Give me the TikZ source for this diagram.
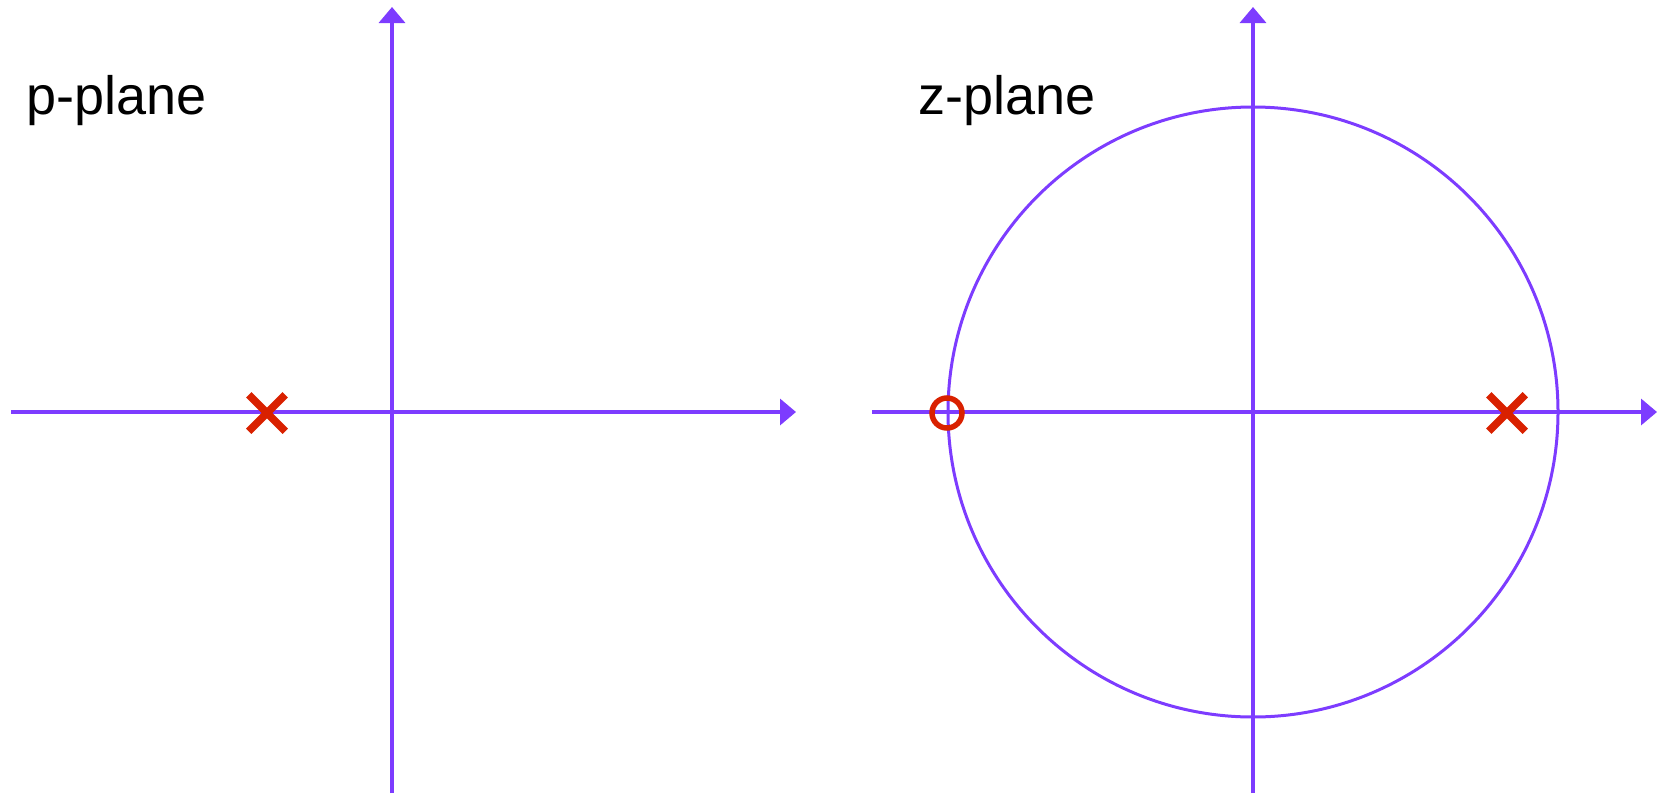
\documentclass[tikz,border=0pt]{standalone}
\usepackage{fontspec}
\setmainfont{Liberation Sans}
\usetikzlibrary{arrows.meta,shapes.misc,positioning}
\definecolor{axiscol}{HTML}{7D3CFF}
\definecolor{polecol}{HTML}{D92100}

\begin{document}
\begin{tikzpicture}[x=1pt, y=-1pt,
  axis/.style={line width=3.5pt, axiscol, -{Triangle[length=16pt, width=26pt]}},
  unitc/.style={line width=3pt, axiscol},
  pole/.style={cross out, draw=polecol, line width=7.5pt, minimum size=29pt, inner sep=0pt},
  zero/.style={circle, draw=polecol, line width=5.5pt, minimum size=30pt, inner sep=0pt},
  lbl/.style={font=\fontsize{54}{64}\selectfont, anchor=base west, inner sep=0pt}
]
  \useasboundingbox (0,0) rectangle (1665,793);
  % p-plane
  \coordinate (op) at (392,412);
  \coordinate (pl) at (11,412);
  \coordinate (pr) at (796,412);
  \coordinate (pb) at (392,793);
  \coordinate (pt) at (392,7);
  \draw[axis] (pl) -- (pr);
  \draw[axis] (pb) -- (pt);
  \node[pole] (ppole) at (267,413) {};
  \node[lbl] (plab) at (26,114) {p-plane};
  % z-plane
  \coordinate (oz) at (1253,412);
  \coordinate (zl) at (872,412);
  \coordinate (zr) at (1657,412);
  \coordinate (zb) at (1253,793);
  \coordinate (zt) at (1253,7);
  \draw[axis] (zl) -- (zr);
  \draw[axis] (zb) -- (zt);
  \draw[unitc] (oz) circle [radius=305pt];
  \node[zero] (zzero) at (947,413) {};
  \node[pole] (zpole) at (1507,413) {};
  \node[lbl] (zlab) at (918,114) {z-plane};
\end{tikzpicture}
\end{document}
